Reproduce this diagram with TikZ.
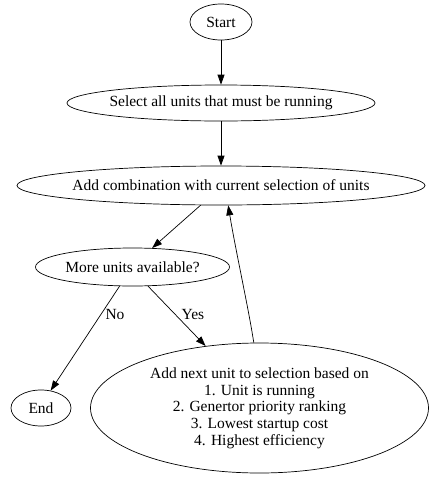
\documentclass[tikz,border=0pt]{standalone}
\usepackage{fontspec}
\setmainfont{Liberation Serif}
\usetikzlibrary{shapes.geometric,arrows.meta}
\newcommand{\zw}[1]{\makebox[0pt][c]{#1}}
\begin{document}
\begin{tikzpicture}[x=1pt,y=-1pt,
  st/.style={draw,ellipse,inner sep=0pt,font=\fontsize{15.5}{16.7}\selectfont,align=center,line width=0.7pt},
  arr/.style={-{Triangle[length=10pt,width=7pt]},line width=0.7pt},
  lbl/.style={font=\fontsize{15.5}{16.7}\selectfont,inner sep=0pt}]
\useasboundingbox (0,0) rectangle (441,480);
\node[st,minimum width=62pt,minimum height=36pt] (start) at (221,22) {\zw{Start}};
\node[st,minimum width=308pt,minimum height=36pt] (sel) at (221,103) {\zw{Select all units that must be running}};
\node[st,minimum width=408pt,minimum height=39pt] (comb) at (221,185.5) {\zw{Add combination with current selection of units}};
\node[st,minimum width=194pt,minimum height=38pt] (more) at (132.5,267) {\zw{More units available?}};
\node[st,minimum width=60pt,minimum height=36pt] (end) at (41,408) {\zw{End}};
\node[st,minimum width=338pt,minimum height=130pt] (next) at (259.5,408) {Add next unit to selection based on\\1. Unit is running\\2. Genertor priority ranking\\3. Lowest startup cost\\4. Highest efficiency};
\draw[arr] (start) -- (sel);
\draw[arr] (sel) -- (comb);
\draw[arr] (comb.224) -- (more.44);
\draw[arr] (more.236) -- (end.61);
\draw[arr] (more.309) -- (next.131);
\draw[arr] (next.95) .. controls +(-5,-33) and +(7,43) .. (comb.290);
\node[lbl] (no) at (115,314) {No};
\node[lbl] (yes) at (193,314) {Yes};
\end{tikzpicture}
\end{document}
